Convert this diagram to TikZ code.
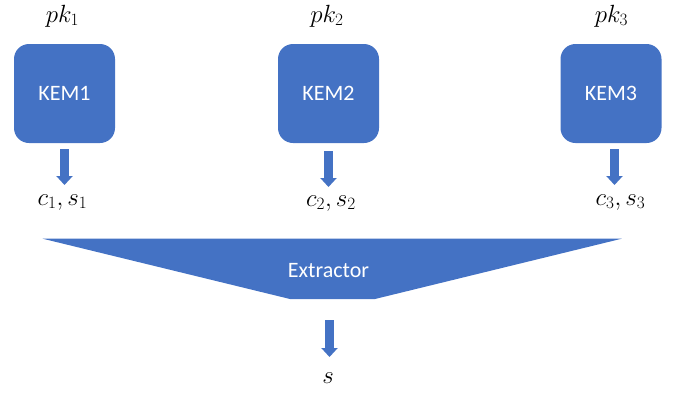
\documentclass[tikz,border=0pt]{standalone}
\usepackage{fontspec}
\setsansfont{Carlito}
\usetikzlibrary{arrows.meta}
\definecolor{kemblue}{HTML}{4472C4}
\tikzset{
  kembox/.style={fill=kemblue, rounded corners=15pt, minimum width=101pt,
    minimum height=99pt, inner sep=0pt, text=white,
    font=\sffamily\fontsize{22}{26}\selectfont},
  mathlbl/.style={anchor=base, inner sep=0pt, font=\fontsize{24}{28}\selectfont},
  blockarrow/.style={draw=kemblue, line width=9pt,
    -{Triangle[width=16pt,length=9pt]}},
}
\begin{document}
\begin{tikzpicture}[x=1pt, y=-1pt]
  \useasboundingbox (0,0) rectangle (678,392);

  % key encapsulation boxes
  \node[kembox] (k1) at (64.5,93.5) {KEM1};
  \node[kembox] (k2) at (328.5,93.5) {KEM2};
  \node[kembox] (k3) at (611,93.5) {KEM3};

  % public keys above the boxes
  \node[mathlbl] (pk1) at (62.5,22) {$pk_1$};
  \node[mathlbl] (pk2) at (327,22) {$pk_2$};
  \node[mathlbl] (pk3) at (611.5,22) {$pk_3$};

  % ciphertext / shared secret outputs
  \node[mathlbl] (cs1) at (62.5,205) {$c_1,s_1$};
  \node[mathlbl] (cs2) at (331,206) {$c_2,s_2$};
  \node[mathlbl] (cs3) at (620.5,205) {$c_3,s_3$};

  % extractor funnel
  \fill[kemblue] (42.7,238.7) -- (621.7,238.7) -- (375,299) -- (290,299) -- cycle;
  \node[anchor=base, inner sep=0pt, text=white,
        font=\sffamily\fontsize{22}{26}\selectfont] (ext) at (328.5,277) {Extractor};

  % final secret
  \node[mathlbl] (s) at (328,383) {$s$};

  % arrow end points
  \coordinate (a1s) at (64.5,149);  \coordinate (a1e) at (64.5,185);
  \coordinate (a2s) at (328.5,151); \coordinate (a2e) at (328.5,187);
  \coordinate (a3s) at (614.5,149); \coordinate (a3e) at (614.5,185);
  \coordinate (a4s) at (329.5,320); \coordinate (a4e) at (329.5,357);

  \draw[blockarrow] (a1s) -- (a1e);
  \draw[blockarrow] (a2s) -- (a2e);
  \draw[blockarrow] (a3s) -- (a3e);
  \draw[blockarrow] (a4s) -- (a4e);
\end{tikzpicture}
\end{document}
